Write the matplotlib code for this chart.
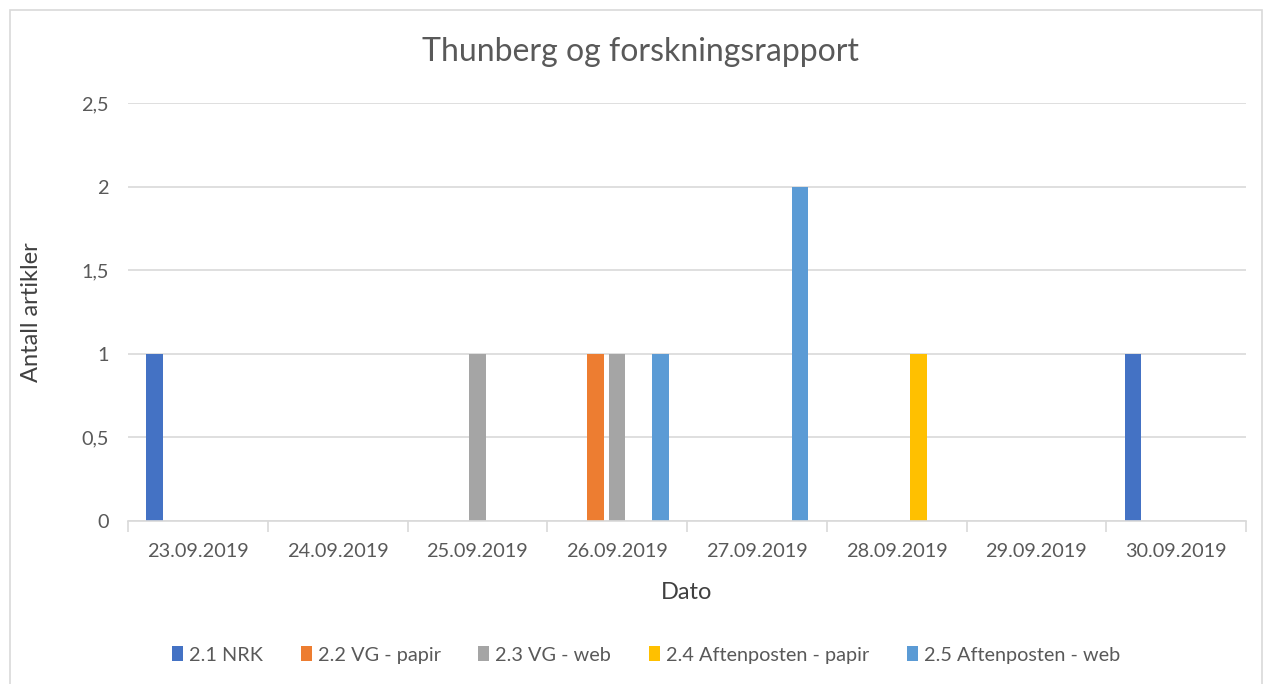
import matplotlib.pyplot as plt
import numpy as np
from matplotlib.patches import Patch, Rectangle

datoer = ['23.09.2019', '24.09.2019', '25.09.2019', '26.09.2019',
          '27.09.2019', '28.09.2019', '29.09.2019', '30.09.2019']
serier = ['2.1 NRK', '2.2 VG - papir', '2.3 VG - web',
          '2.4 Aftenposten - papir', '2.5 Aftenposten - web']
nrk = [1, 0, 0, 0, 0, 0, 0, 1]
vg_papir = [0, 0, 0, 1, 0, 0, 0, 0]
vg_web = [0, 0, 1, 1, 0, 0, 0, 0]
ap_papir = [0, 0, 0, 0, 0, 1, 0, 0]
ap_web = [0, 0, 0, 1, 2, 0, 0, 0]
farger = ['#4472C4', '#ED7D31', '#A5A5A5', '#FFC000', '#5B9BD5']

plt.rcParams['font.family'] = ['Lato', 'DejaVu Sans']

fig = plt.figure(figsize=(12.63, 6.84), dpi=100)
fig.patches.append(Rectangle((10 / 1263, -0.05), 1252 / 1263, 1.05 - 10 / 684,
                             transform=fig.transFigure, fill=False,
                             edgecolor='#d9d9d9', linewidth=1.2))

ax = fig.add_axes([128 / 1263, 1 - 521 / 684, (1246 - 128) / 1263, (521 - 103) / 684])

x = np.arange(len(datoer))
pitch = 0.155
width = 0.118
for i, (navn, verdier) in enumerate(zip(serier, [nrk, vg_papir, vg_web, ap_papir, ap_web])):
    ax.bar(x + (i - 2) * pitch, verdier, width=width, color=farger[i], linewidth=0)

ax.set_xlim(-0.5, len(datoer) - 0.5)
ax.set_ylim(0, 2.5)
ax.set_yticks([0, 0.5, 1, 1.5, 2, 2.5])
ax.set_yticklabels(['0', '0,5', '1', '1,5', '2', '2,5'])
ax.set_xticks(x)
ax.set_xticklabels(datoer)
ax.set_xticks(np.arange(-0.5, len(datoer)), minor=True)
ax.tick_params(axis='x', which='major', length=0, pad=16, labelsize=14.3, labelcolor='#595959')
ax.tick_params(axis='x', which='minor', length=8, color='#d9d9d9', width=1.2)
ax.tick_params(axis='y', length=0, pad=14, labelsize=14.3, labelcolor='#595959')
ax.grid(axis='y', color='#d9d9d9', linewidth=1.2)
ax.set_axisbelow(True)
for s in ['top', 'right', 'left']:
    ax.spines[s].set_visible(False)
ax.spines['bottom'].set_color('#d9d9d9')
ax.spines['bottom'].set_linewidth(1.2)

fig.text(641 / 1263, 1 - 52 / 684, 'Thunberg og forskningsrapport', fontsize=23,
         color='#595959', ha='center', va='center')
ax.set_xlabel('Dato', fontsize=17, color='#404040', labelpad=16)
ax.set_ylabel('Antall artikler', fontsize=17, color='#404040', labelpad=28)

handles = [Patch(facecolor=c, edgecolor='none') for c in farger]
fig.legend(handles, serier, loc='center', bbox_to_anchor=(646 / 1263, 1 - 655 / 684),
           ncol=5, frameon=False, fontsize=14.3, labelcolor='#595959',
           handlelength=0.55, handleheight=0.8, handletextpad=0.3, columnspacing=1.9)

fig.savefig('out.png', dpi=100)
